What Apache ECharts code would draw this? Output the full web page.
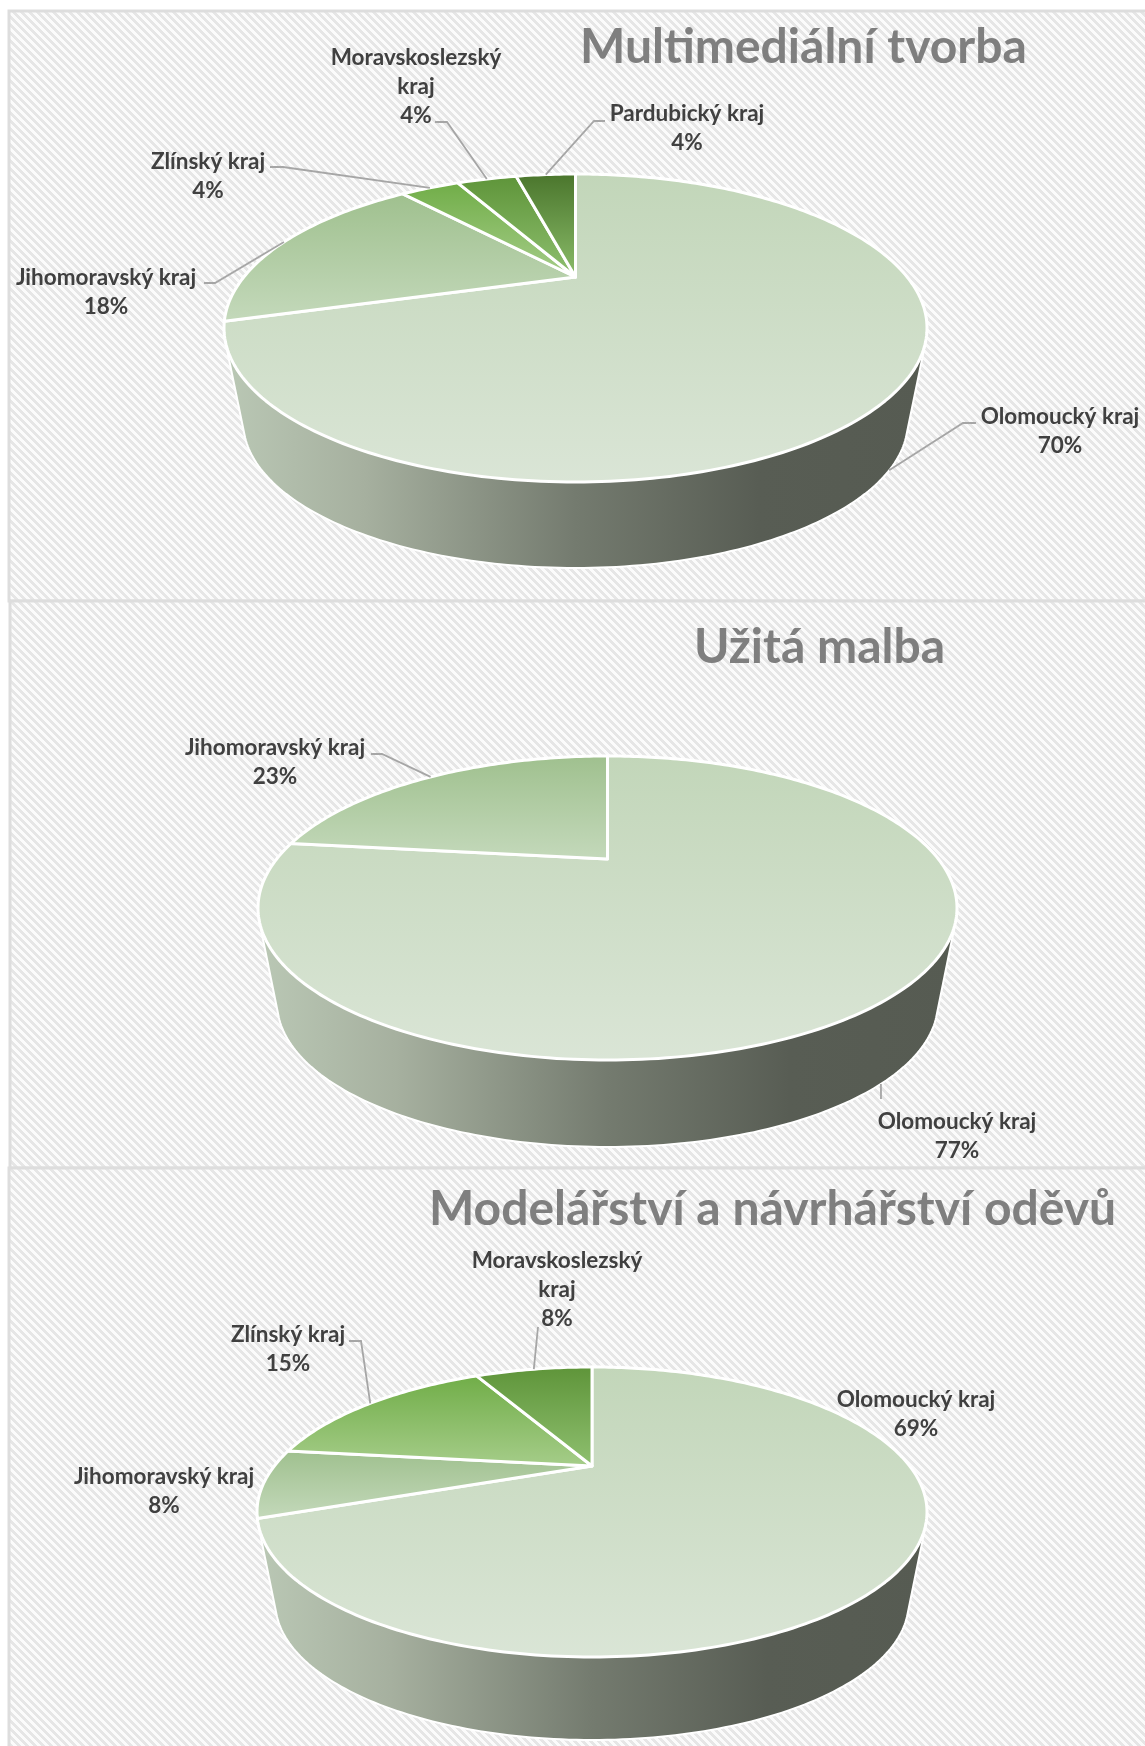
<!DOCTYPE html>
<html>
<head>
<meta charset="utf-8">
<title>Kraje</title>
<script src="https://cdn.jsdelivr.net/npm/echarts@6/dist/echarts.min.js"></script>
<style>
    html, body { margin: 0; padding: 0; background: #fff; }
    #chart { width: 1145px; height: 1746px; }
</style>
</head>
<body>
<div id="chart"></div>
<script>
    // data
    var titles = ['Multimediální tvorba', 'Užitá malba', 'Modelářství a návrhářství oděvů'];

    var regions1 = ['Olomoucký kraj', 'Jihomoravský kraj', 'Zlínský kraj', 'Moravskoslezský kraj', 'Pardubický kraj'];
    var values1 = [70.3, 18.4, 3.7, 3.8, 3.8];

    var regions2 = ['Olomoucký kraj', 'Jihomoravský kraj'];
    var values2 = [76.9, 23.1];

    var regions3 = ['Olomoucký kraj', 'Jihomoravský kraj', 'Zlínský kraj', 'Moravskoslezský kraj'];
    var values3 = [69.2, 7.7, 15.4, 7.7];

    // top and bottom colour of every slice
    var sliceColors = {
        'Olomoucký kraj': ['#c2d6b9', '#dae5d6'],
        'Jihomoravský kraj': ['#9fc08e', '#c4d9bb'],
        'Zlínský kraj': ['#70ad47', '#a6cd8a'],
        'Moravskoslezský kraj': ['#5e9439', '#8fc070'],
        'Pardubický kraj': ['#4a752c', '#8bbd6a']
    };

    // where each pie sits on the page, measured in px
    var pieBoxes = [
        {left: 224, right: 927, top: 174, bottom: 482, apexY: 277, wallBottom: 568, shrink: 0.945},
        {left: 258, right: 957, top: 756, bottom: 1060, apexY: 859, wallBottom: 1147, shrink: 0.945},
        {left: 257, right: 927, top: 1367, bottom: 1657, apexY: 1466, wallBottom: 1740, shrink: 0.945}
    ];

    // label centre and leader line per pie, in the order of the regions
    var labels1 = [
        {at: [1060, 431], leader: [[976, 423], [963, 423]], rim: 'bottom'},
        {at: [106, 292], leader: [[204, 283], [215, 283]], rim: 'top'},
        {at: [208, 176], leader: [[270, 167], [283, 167]], rim: 'top'},
        {at: [416, 87], leader: [[435, 122], [447, 122]], rim: 'top', wrap: true},
        {at: [687, 128], leader: [[605, 121], [594, 121]], rim: 'top'}
    ];
    var labels2 = [
        {at: [957, 1136], leader: [[881, 1099]], rim: 'bottom'},
        {at: [275, 762], leader: [[371, 754], [382, 754]], rim: 'top'}
    ];
    var labels3 = [
        {at: [916, 1414]},
        {at: [164, 1491]},
        {at: [288, 1349], leader: [[349, 1341], [361, 1341]], rim: 'top'},
        {at: [557, 1290], leader: [[538, 1327]], rim: 'top', wrap: true}
    ];

    var titleBoxes = [
        {left: 580, top: 24},
        {left: 694, top: 624},
        {left: 429, top: 1186}
    ];

    var fontName = 'Lato';

    // perspective of the tilted disc, worked out from its outline
    function makeDisc(box) {
        var upper = box.apexY - box.top;
        var lower = box.bottom - box.apexY;
        var k = (lower - upper) / (lower + upper);
        var rx = (box.right - box.left) / 2;
        var disc = {
            cx: (box.left + box.right) / 2,
            cy: box.apexY,
            k: k,
            a: rx * Math.sqrt(1 - k * k),
            b: upper * (1 + k),
            rx: rx,
            ry: (box.bottom - box.top) / 2,
            midY: (box.top + box.bottom) / 2,
            shrink: box.shrink
        };
        disc.lowRy = disc.ry * box.shrink;
        disc.lowY = box.wallBottom - disc.lowRy;
        return disc;
    }

    // angle in degrees, clockwise from 12 o'clock
    function topPoint(disc, deg) {
        var t = deg * Math.PI / 180;
        var u = Math.sin(t), v = Math.cos(t);
        var w = 1 + disc.k * v;
        return [disc.cx + disc.a * u / w, disc.cy - disc.b * v / w];
    }

    function bottomPoint(disc, deg) {
        var p = topPoint(disc, deg);
        return [disc.cx + (p[0] - disc.cx) * disc.shrink, disc.lowY + (p[1] - disc.midY) * disc.shrink];
    }

    function convexHull(points) {
        var pts = points.slice().sort(function (p, q) {
            return p[0] - q[0] || p[1] - q[1];
        });
        function cross(o, p, q) {
            return (p[0] - o[0]) * (q[1] - o[1]) - (p[1] - o[1]) * (q[0] - o[0]);
        }
        var low = [], up = [];
        pts.forEach(function (p) {
            while (low.length > 1 && cross(low[low.length - 2], low[low.length - 1], p) <= 0) low.pop();
            low.push(p);
        });
        pts.slice().reverse().forEach(function (p) {
            while (up.length > 1 && cross(up[up.length - 2], up[up.length - 1], p) <= 0) up.pop();
            up.push(p);
        });
        return low.slice(0, -1).concat(up.slice(0, -1));
    }

    function wallSeries(box) {
        var disc = makeDisc(box);
        return {
            type: 'custom',
            coordinateSystem: 'none',
            silent: true,
            z: 2,
            data: [1],
            renderItem: function () {
                var pts = [];
                for (var d = 0; d < 360; d += 1) {
                    pts.push(topPoint(disc, d));
                    pts.push(bottomPoint(disc, d));
                }
                return {
                    type: 'polygon',
                    shape: {points: convexHull(pts)},
                    style: {
                        fill: new echarts.graphic.LinearGradient(0, 0, 1, 0, [
                            {offset: 0, color: '#bac8b5'},
                            {offset: 0.2, color: '#a6b09f'},
                            {offset: 0.5, color: '#747b6f'},
                            {offset: 0.76, color: '#585d54'},
                            {offset: 1, color: '#565b52'}
                        ]),
                        stroke: '#fff',
                        lineWidth: 2
                    }
                };
            }
        };
    }

    function sliceSeries(box, regions, values, labels) {
        var disc = makeDisc(box);
        var total = values.reduce(function (s, v) { return s + v; }, 0);
        return {
            type: 'custom',
            coordinateSystem: 'none',
            silent: true,
            z: 3,
            data: values.map(function (v, i) {
                return {name: regions[i], value: v};
            }),
            renderItem: function (params, api) {
                var i = params.dataIndex;
                var before = 0;
                for (var n = 0; n < i; n++) before += values[n];
                var start = before / total * 360;
                var value = api.value(0);
                var end = start + value / total * 360;
                var mid = (start + end) / 2;

                var pts = [[disc.cx, disc.cy]];
                for (var d = start; d < end; d += 1) {
                    pts.push(topPoint(disc, d));
                }
                pts.push(topPoint(disc, end));

                var colors = sliceColors[regions[i]];
                var children = [{
                    type: 'polygon',
                    shape: {points: pts},
                    style: {
                        fill: new echarts.graphic.LinearGradient(0, 0, 0, 1, [
                            {offset: 0, color: colors[0]},
                            {offset: 1, color: colors[1]}
                        ]),
                        stroke: '#fff',
                        lineWidth: 3,
                        lineJoin: 'round'
                    }
                }];

                var label = labels[i];
                if (label.leader) {
                    var rimPoint = label.rim === 'bottom' ? bottomPoint(disc, mid) : topPoint(disc, mid);
                    children.push({
                        type: 'polyline',
                        shape: {points: label.leader.concat([rimPoint])},
                        style: {fill: null, stroke: '#a6a6a6', lineWidth: 1.8}
                    });
                }

                var name = label.wrap ? regions[i].replace(' ', '\n') : regions[i];
                children.push({
                    type: 'text',
                    x: label.at[0],
                    y: label.at[1],
                    style: {
                        text: name + '\n' + Math.round(value) + '%',
                        fill: '#404040',
                        font: 'bold 22.5px ' + fontName,
                        lineHeight: 29,
                        align: 'center',
                        verticalAlign: 'middle'
                    }
                });

                return {type: 'group', children: children};
            }
        };
    }

    function stripes() {
        // 8x8 tile of the wide downward diagonal
        var tile = document.createElement('canvas');
        tile.width = 8;
        tile.height = 8;
        var ctx = tile.getContext('2d');
        for (var y = 0; y < 8; y++) {
            for (var x = 0; x < 8; x++) {
                ctx.fillStyle = ((x - y + 8) % 8) < 4 ? '#e6e6e6' : '#fbfbfb';
                ctx.fillRect(x, y, 1, 1);
            }
        }
        return {image: tile, repeat: 'repeat'};
    }

    var pattern = stripes();
    var panelRects = [
        {x: 9, y: 11, width: 1150, height: 590},
        {x: 10, y: 601, width: 1150, height: 567},
        {x: 9, y: 1168, width: 1150, height: 600}
    ];

    var chart = echarts.init(document.getElementById('chart'));
    chart.setOption({
        animation: false,
        title: titles.map(function (t, i) {
            return {
                text: t,
                left: titleBoxes[i].left,
                top: titleBoxes[i].top,
                padding: 0,
                textStyle: {color: '#7f7f7f', fontFamily: fontName, fontWeight: 'bold', fontSize: 48}
            };
        }),
        graphic: panelRects.map(function (r) {
            return {
                type: 'rect',
                silent: true,
                shape: r,
                style: {fill: pattern, stroke: '#dddddd', lineWidth: 3}
            };
        }),
        series: [
            wallSeries(pieBoxes[0]),
            sliceSeries(pieBoxes[0], regions1, values1, labels1),
            wallSeries(pieBoxes[1]),
            sliceSeries(pieBoxes[1], regions2, values2, labels2),
            wallSeries(pieBoxes[2]),
            sliceSeries(pieBoxes[2], regions3, values3, labels3)
        ]
    });
</script>
</body>
</html>
